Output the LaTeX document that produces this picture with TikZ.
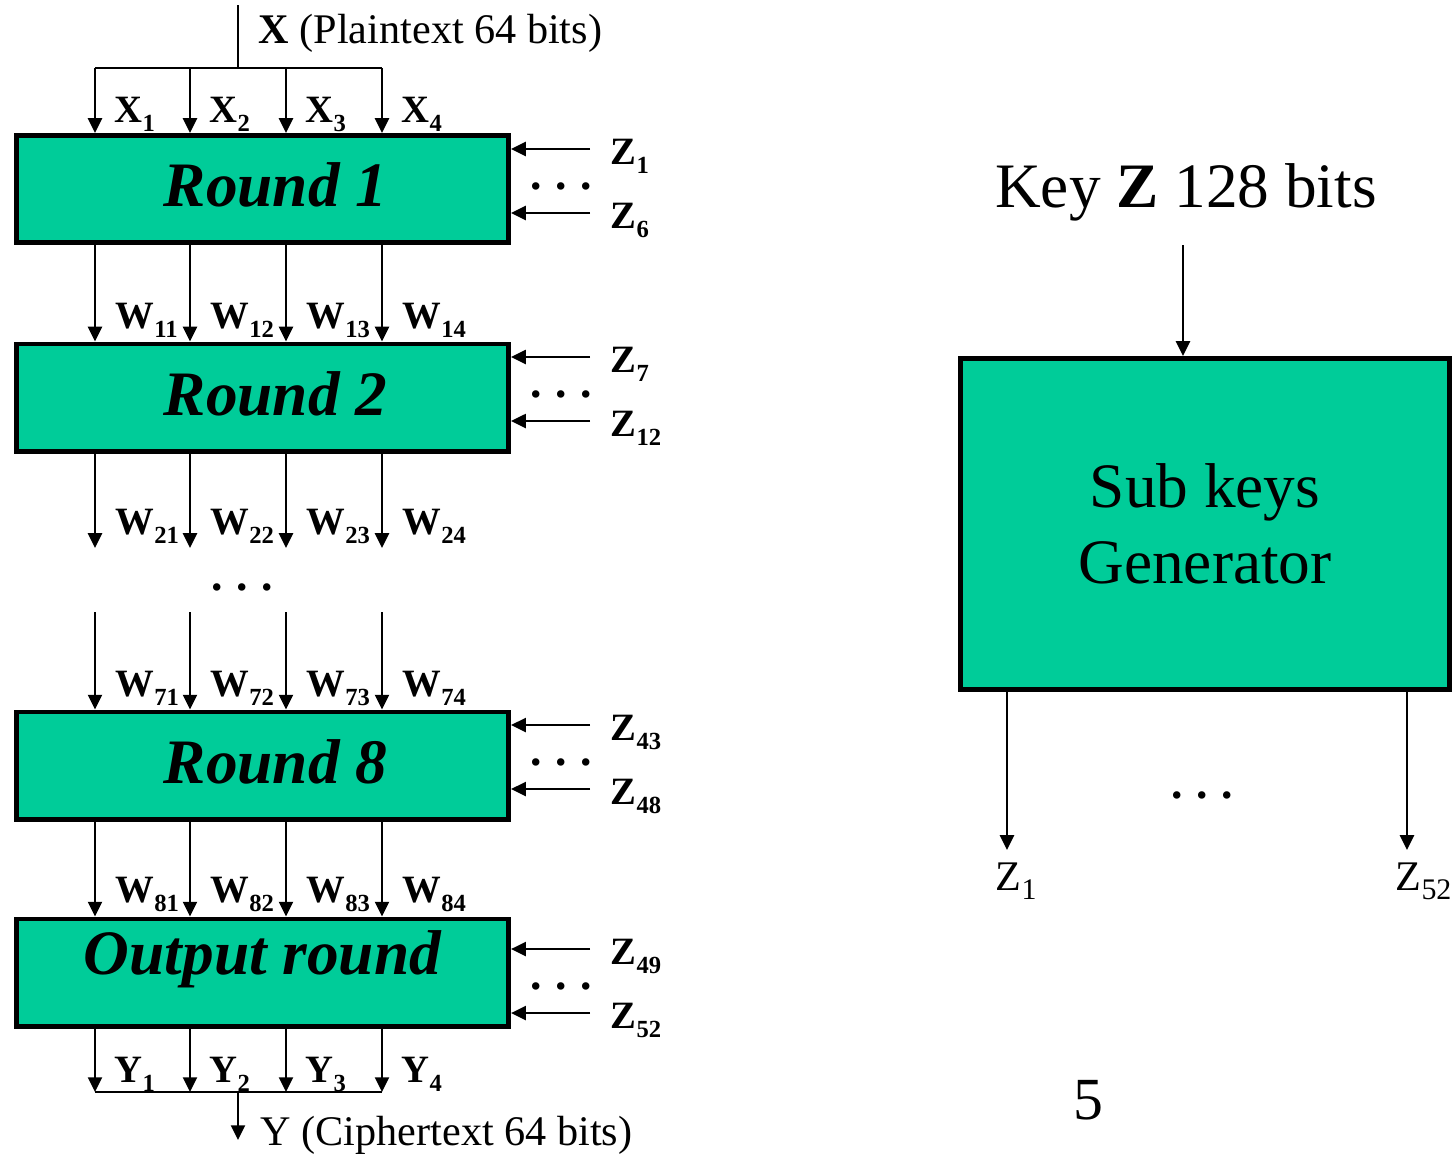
\documentclass[tikz,border=0pt]{standalone}
\usepackage{fontspec}
\setmainfont{Liberation Serif}
\usetikzlibrary{arrows.meta}
\definecolor{ideagreen}{RGB}{0,204,153}
\newcommand{\bsub}[2]{\textbf{#1}\raisebox{-2.8pt}{\fontsize{7}{8}\selectfont\bfseries #2}}
\newcommand{\rsub}[2]{#1\raisebox{-2.8pt}{\fontsize{8.5}{10}\selectfont #2}}
\newcommand{\dotrow}{.\hspace{3.8pt}.\hspace{3.8pt}.}
\begin{document}
\begin{tikzpicture}[x=0.01cm, y=-0.01cm,
    wire/.style={line width=0.6pt},
    arr/.style={wire, -{Triangle[length=4.2pt,width=4pt]}},
    roundbox/.style={draw, line width=1.4pt, fill=ideagreen, inner sep=0pt,
        minimum width=4.92cm, minimum height=1.07cm,
        text height=12.2pt, text depth=2pt,
        font=\fontsize{18}{20}\selectfont\bfseries\itshape},
    roundn/.style={roundbox, execute at begin node=\hspace{7.4pt}},
    lab/.style={anchor=base west, inner sep=0pt, font=\fontsize{11}{13}\selectfont},
    dots/.style={inner sep=0pt, font=\fontsize{13}{14}\selectfont\bfseries}]
    \useasboundingbox (0,0) rectangle (1455,1154);

    \node[roundn] (r1) at (262.5, 189  ) {Round 1};
    \node[roundn] (r2) at (262.5, 397.5) {Round 2};
    \node[roundn] (r8) at (262.5, 765.5) {Round 8};
    \node[roundbox, text depth=10.8pt] (ro) at (262.5, 972.5) {Output round};

    \foreach \i/\x in {1/95, 2/190, 3/286, 4/382} {
        \coordinate (c\i)  at (\x, 68);
        \coordinate (e2\i) at (\x, 548);
        \coordinate (s7\i) at (\x, 612);
        \coordinate (y\i)  at (\x, 1092);
        \draw[arr] (c\i) -- (r1.north -| c\i);
        \draw[arr] (r1.south -| c\i) -- (r2.north -| c\i);
        \draw[arr] (r2.south -| c\i) -- (e2\i);
        \draw[arr] (s7\i) -- (r8.north -| c\i);
        \draw[arr] (r8.south -| c\i) -- (ro.north -| c\i);
        \draw[arr] (ro.south -| c\i) -- (y\i);
        \node[lab] (x\i)   at (\x+19, 122 ) {\bsub{X}{\i}};
        \node[lab] (w1\i)  at (\x+20, 328 ) {\bsub{W}{1\i}};
        \node[lab] (w2\i)  at (\x+20, 534 ) {\bsub{W}{2\i}};
        \node[lab] (w7\i)  at (\x+20, 696 ) {\bsub{W}{7\i}};
        \node[lab] (w8\i)  at (\x+20, 902 ) {\bsub{W}{8\i}};
        \node[lab] (yl\i)  at (\x+19, 1082) {\bsub{Y}{\i}};
    }

    \coordinate (xin)  at (238, 5);
    \coordinate (xbus) at (238, 68);
    \coordinate (ybus) at (238, 1092);
    \coordinate (yout) at (238, 1140);
    \draw[wire] (xin) -- (xbus);
    \draw[wire] (c1) -- (c4);
    \draw[wire] (y1) -- (y4);
    \draw[arr] (ybus) -- (yout);
    \node[lab, font=\fontsize{12}{14}\selectfont] (xtext) at (258, 43)
        {\textbf{X} (Plaintext 64 bits)};
    \node[lab, font=\fontsize{12}{14}\selectfont] (ytext) at (260, 1145)
        {Y (Ciphertext 64 bits)};
    \node[dots] (mid) at (242, 587) {\dotrow};

    \foreach \n/\ya/\yb/\za/\zb in {r1/149/213/1/6, r2/357/421/7/12,
                                     r8/725/789/43/48, ro/949/1013/49/52} {
        \coordinate (\n-za) at (590, \ya);
        \coordinate (\n-zb) at (590, \yb);
        \draw[arr] (\n-za) -- (\n-za -| \n.east);
        \draw[arr] (\n-zb) -- (\n-zb -| \n.east);
        \node[lab] (\n-la) at (610, \ya+15) {\bsub{Z}{\za}};
        \node[lab] (\n-lb) at (610, \yb+15) {\bsub{Z}{\zb}};
        \node[dots] (\n-dots) at (561, {(\ya+\yb)/2+5}) {\dotrow};
    }

    \node[anchor=base, inner sep=0pt, font=\fontsize{18}{20}\selectfont] (key)
        at (1186, 207) {Key \textbf{Z} 128 bits};
    \node[draw, line width=1.4pt, fill=ideagreen, minimum width=4.89cm,
          minimum height=3.31cm, align=center,
          font=\fontsize{18}{21.6}\selectfont] (gen) at (1205, 524)
        {Sub keys\\Generator};
    \coordinate (kin)  at (1183, 245);
    \coordinate (zo1)  at (1007, 850);
    \coordinate (zo52) at (1407, 850);
    \draw[arr] (kin) -- (kin |- gen.north);
    \draw[arr] (gen.south -| zo1)  -- (zo1);
    \draw[arr] (gen.south -| zo52) -- (zo52);
    \node[lab, font=\fontsize{12}{14}\selectfont] (lz1)  at (995, 890)  {\rsub{Z}{1}};
    \node[lab, font=\fontsize{12}{14}\selectfont] (lz52) at (1395, 890) {\rsub{Z}{52}};
    \node[dots] (gdots) at (1202, 795) {\dotrow};
    \node[font=\fontsize{17}{20}\selectfont] (page) at (1088, 1100) {5};
\end{tikzpicture}
\end{document}
